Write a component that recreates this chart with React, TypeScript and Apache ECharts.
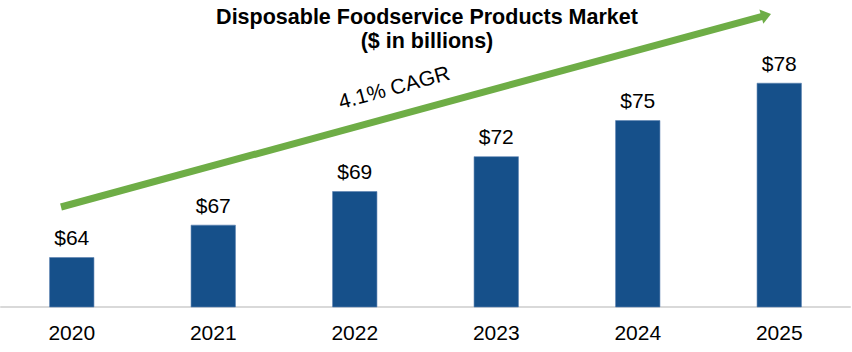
import React, { useEffect, useRef } from "react";
import * as echarts from "echarts";

const categories = ["2020", "2021", "2022", "2023", "2024", "2025"];
const marketValues = [64.0, 66.6, 69.3, 72.1, 75.0, 78.0];
const titleLine1 = "Disposable Foodservice Products Market";
const titleLine2 = "($ in billions)";
const cagrLabel = "4.1% CAGR";

export default function App() {
  const ref = useRef<HTMLDivElement>(null);
  useEffect(() => {
    if (!ref.current) return;
    const chart = echarts.init(ref.current, null, { renderer: "svg" });
    const green = "#6EAD46";
    const start = [61, 207];
    const tip = [771, 14];
    const dx = tip[0] - start[0];
    const dy = tip[1] - start[1];
    const len = Math.sqrt(dx * dx + dy * dy);
    const ux = dx / len, uy = dy / len;
    const nx = -uy, ny = ux;
    const headLen = 10, headHalf = 7.5;
    const bx = tip[0] - ux * headLen, by = tip[1] - uy * headLen;
    const angle = Math.atan2(-dy, dx);
    chart.setOption({
      animation: false,
      textStyle: { fontFamily: "Liberation Sans, Arial, sans-serif" },
      title: {
        text: titleLine1 + "\n" + titleLine2,
        left: 422,
        textAlign: "center",
        top: 0,
        textStyle: {
          fontSize: 21.5,
          fontWeight: "bold",
          color: "#000",
          lineHeight: 24,
          fontFamily: "Liberation Sans, Arial, sans-serif",
        },
      },
      grid: { left: 1, right: 2, top: 58, bottom: 45, containLabel: false },
      xAxis: {
        type: "category",
        data: categories,
        axisLine: { show: true, lineStyle: { color: "#D9D9D9", width: 2 } },
        axisTick: { show: false },
        axisLabel: { fontSize: 21, color: "#000", margin: 15 },
      },
      yAxis: {
        type: "value",
        min: 60,
        max: 80,
        show: false,
        splitLine: { show: false },
      },
      series: [
        {
          type: "bar",
          data: marketValues,
          barWidth: 45,
          itemStyle: { color: "#16508A", borderColor: "#5B82B0", borderWidth: 0.6 },
          label: {
            show: true,
            position: "top",
            distance: 9,
            fontSize: 21,
            color: "#000",
            formatter: (p: any) => "$" + Math.round(p.value),
          },
        },
      ],
      graphic: [
        {
          type: "line",
          shape: { x1: start[0], y1: start[1], x2: bx + ux * 1, y2: by + uy * 1 },
          style: { stroke: green, lineWidth: 7 },
        },
        {
          type: "polygon",
          shape: {
            points: [
              [tip[0], tip[1]],
              [bx + nx * headHalf, by + ny * headHalf],
              [bx - nx * headHalf, by - ny * headHalf],
            ],
          },
          style: { fill: green },
        },
        {
          type: "text",
          x: 394,
          y: 87,
          rotation: angle,
          style: {
            text: cagrLabel,
            fontSize: 21,
            fill: "#000",
            align: "center",
            verticalAlign: "middle",
            fontFamily: "Liberation Sans, Arial, sans-serif",
          },
        },
      ],
    });
    return () => chart.dispose();
  }, []);
  return <div ref={ref} style={{ width: 852, height: 352, position: "absolute", left: 0, top: 0 }} />;
}
